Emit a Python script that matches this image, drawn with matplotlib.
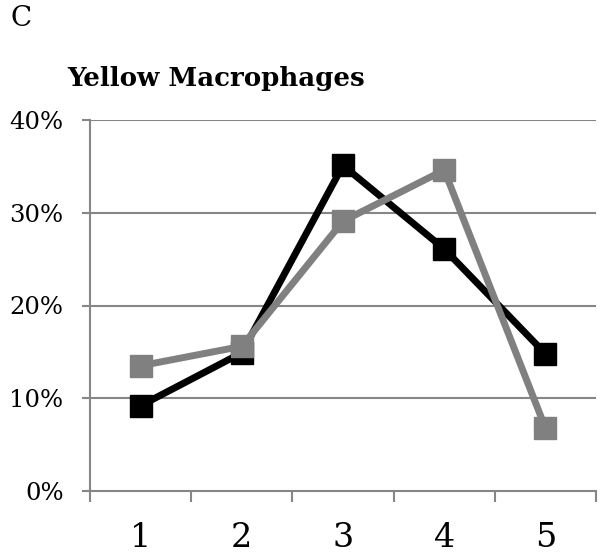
import matplotlib.pyplot as plt
from matplotlib.ticker import FixedLocator

categories = [1, 2, 3, 4, 5]
black_series = [0.092, 0.149, 0.351, 0.261, 0.148]
gray_series = [0.135, 0.156, 0.291, 0.346, 0.068]
y_ticks = [0.0, 0.1, 0.2, 0.3, 0.4]
y_labels = ['0%', '10%', '20%', '30%', '40%']

plt.rcParams['font.family'] = ['DejaVu Serif']

fig = plt.figure(figsize=(6.09, 5.56), dpi=100)
ax = fig.add_axes([90 / 609, 1 - 491 / 556, 506 / 609, 371 / 556])

grid_col = '#868686'
for t in y_ticks[1:]:
    ax.axhline(t, color=grid_col, lw=1.5, zorder=1)

ax.plot(categories, black_series, color='black', lw=5, marker='s', ms=16,
        zorder=3)
ax.plot(categories, gray_series, color='#808080', lw=5, marker='s', ms=16,
        zorder=4)

ax.set_xlim(0.5, 5.5)
ax.set_ylim(0, 0.4)
ax.set_yticks(y_ticks)
ax.set_yticklabels(y_labels, fontsize=17.5)
ax.set_xticks(categories)
ax.set_xticklabels([str(c) for c in categories], fontsize=24)
ax.xaxis.set_minor_locator(FixedLocator([0.5, 1.5, 2.5, 3.5, 4.5, 5.5]))
ax.tick_params(axis='x', which='major', length=0, pad=22)
ax.tick_params(axis='x', which='minor', length=8, width=1.5, color=grid_col)
ax.tick_params(axis='y', length=6, width=1.5, color=grid_col, pad=13)

for s in ['top', 'right']:
    ax.spines[s].set_visible(False)
for s in ['left', 'bottom']:
    ax.spines[s].set_color(grid_col)
    ax.spines[s].set_linewidth(1.5)

fig.text(10 / 609, 1 - 19 / 556, 'C', fontsize=20, va='center', ha='left')
fig.text(67 / 609, 1 - 86 / 556, 'Yellow Macrophages', fontsize=18.7,
         fontweight='bold', va='baseline', ha='left')

fig.savefig('out.png', dpi=100)
